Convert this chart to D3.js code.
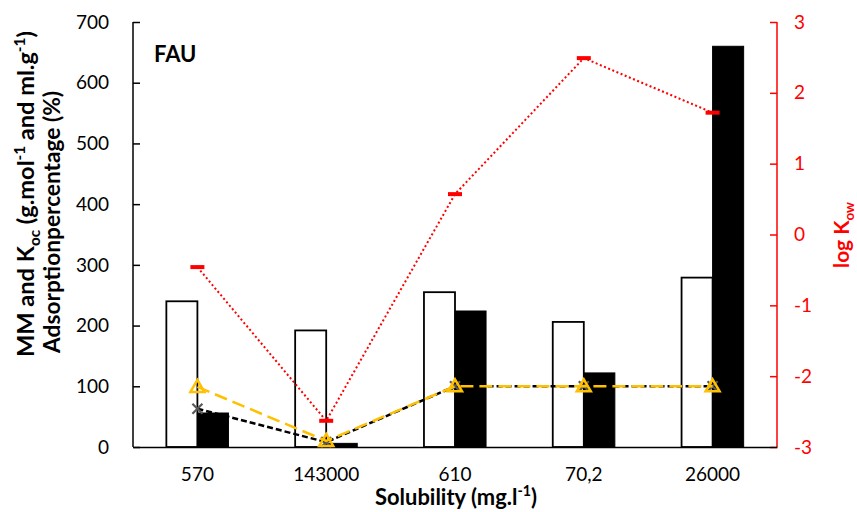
<!DOCTYPE html>
<html><head><meta charset="utf-8">
<script src="https://cdn.jsdelivr.net/npm/d3@7"></script>
<style>body{margin:0;background:#fff}svg{display:block}text{font-family:Lato,"Open Sans",sans-serif}</style>
</head><body><svg id="c" width="857" height="512"></svg>
<script>
const categories = ["570","143000","610","70,2","26000"];
const molarMass = [240, 192, 255, 206, 279];
const koc = [56, 6, 224, 122, 660];
const adsorptionA = [99, 10, 100, 100, 100];
const adsorptionB = [63, 8, 100, 100, 100];
const logKow = [-0.46, -2.63, 0.57, 2.49, 1.72];
const leftTicks = [0,100,200,300,400,500,600,700];
const rightTicks = [-3,-2,-1,0,1,2,3];

const svg = d3.select("#c");
const L=133, R=777, T=22, B=447;
const x = d3.scaleBand().domain(categories).range([L,R]).padding(0);
const yL = d3.scaleLinear().domain([0,700]).range([B,T]);
const yR = d3.scaleLinear().domain([-3,3]).range([B,T]);
const groupW = x.bandwidth()*0.482;
const xi = d3.scaleBand().domain(["mm","koc"]).range([0,groupW]).padding(0);
const cx = c => x(c)+x.bandwidth()/2;

// bars
const g = svg.append("g");
categories.forEach((c,i)=>{
  const x0 = cx(c)-groupW/2;
  g.append("rect").attr("x",x0+xi("mm")).attr("y",yL(molarMass[i])).attr("width",xi.bandwidth()).attr("height",B-yL(molarMass[i]))
    .attr("fill","#fff").attr("stroke","#000").attr("stroke-width",1.8);
  g.append("rect").attr("x",x0+xi("koc")).attr("y",yL(koc[i])).attr("width",xi.bandwidth()).attr("height",B-yL(koc[i]))
    .attr("fill","#000").attr("stroke","#000").attr("stroke-width",1);
});

// axes
const axL = svg.append("g").attr("transform",`translate(${L},0)`).call(d3.axisRight(yL).tickValues(leftTicks).tickSize(7).tickFormat(""));
axL.select(".domain").attr("stroke","#000").attr("stroke-width",1.5).attr("d",`M0,${T}V${B}`);
axL.selectAll(".tick line").attr("stroke","#000").attr("stroke-width",1.5);
svg.append("g").selectAll("text").data(leftTicks).join("text")
  .attr("x",109).attr("y",d=>yL(d)).attr("dy","0.35em").attr("text-anchor","end").attr("font-size",19).attr("fill","#000").text(d=>d);

const axR = svg.append("g").attr("transform",`translate(${R},0)`).call(d3.axisLeft(yR).tickValues(rightTicks).tickSize(7).tickFormat(""));
axR.select(".domain").attr("stroke","#ff0000").attr("stroke-width",1.5).attr("d",`M0,${T}V${B}`);
axR.selectAll(".tick line").attr("stroke","#ff0000").attr("stroke-width",1.5);
svg.append("g").selectAll("text").data(rightTicks).join("text")
  .attr("x",794).attr("y",d=>yR(d)).attr("dy","0.35em").attr("text-anchor","start").attr("font-size",19).attr("fill","#ff0000").text(d=>d<0?"-"+Math.abs(d):d);

const axB = svg.append("g").attr("transform",`translate(0,${B})`).call(d3.axisBottom(x).tickSize(0).tickFormat(""));
axB.select(".domain").attr("stroke","#000").attr("stroke-width",1.5);
svg.append("g").selectAll("text").data(categories).join("text")
  .attr("x",d=>cx(d)).attr("y",481).attr("text-anchor","middle").attr("font-size",19).attr("fill","#000").text(d=>d);

// lines
const pts = (arr,sc) => categories.map((c,i)=>[cx(c), sc(arr[i])]);
const line = d3.line();
svg.append("path").attr("d",line(pts(adsorptionB,yL))).attr("fill","none").attr("stroke","#000").attr("stroke-width",2.5).attr("stroke-dasharray","6,3");
pts(adsorptionB,yL).forEach(p=>{
  svg.append("path").attr("d",`M${p[0]-5},${p[1]-5}L${p[0]+5},${p[1]+5}M${p[0]-5},${p[1]+5}L${p[0]+5},${p[1]-5}`).attr("stroke","#595959").attr("stroke-width",2.2);
});
svg.append("path").attr("d",line(pts(adsorptionA,yL))).attr("fill","none").attr("stroke","#FFC000").attr("stroke-width",2.5).attr("stroke-dasharray","13,6");
pts(adsorptionA,yL).forEach(p=>{
  svg.append("path").attr("d",`M${p[0]},${p[1]-7}L${p[0]+7},${p[1]+5}L${p[0]-7},${p[1]+5}Z`).attr("fill","none").attr("stroke","#FFC000").attr("stroke-width",2.5);
});
svg.append("path").attr("d",line(pts(logKow,yR))).attr("fill","none").attr("stroke","#ff0000").attr("stroke-width",2).attr("stroke-dasharray","2,2.5");
pts(logKow,yR).forEach(p=>{
  svg.append("rect").attr("x",p[0]-7).attr("y",p[1]-2).attr("width",14).attr("height",4).attr("fill","#ff0000");
});

// rich text helper: parts = [[text, kind]] kind: n, sup, sub
function rich(sel, parts, f){
  sel.selectAll("tspan").remove();
  sel.attr("font-size",f);
  let cur=0;
  parts.forEach(([t,k])=>{
    const target = k==="sup"? -0.4*f : k==="sub"? 0.25*f : 0;
    sel.append("tspan").attr("font-size", k==="n"? f : 0.65*f).attr("dy", target-cur).text(t);
    cur=target;
  });
}
function fit(sel, parts, targetLen){
  rich(sel, parts, 20);
  const len = sel.node().getComputedTextLength();
  rich(sel, parts, 20*targetLen/len);
}

svg.append("text").attr("x",154).attr("y",62).attr("font-size",22).attr("font-weight","bold").attr("fill","#000").text("FAU");

const xt = svg.append("text").attr("x",456).attr("y",505).attr("text-anchor","middle").attr("font-weight","bold").attr("fill","#000");
fit(xt, [["Solubility (mg.l","n"],["-1","sup"],[")","n"]], 162);

const yt1 = svg.append("text").attr("transform","translate(34,194) rotate(-90)").attr("text-anchor","middle").attr("font-weight","bold").attr("fill","#000");
fit(yt1, [["MM and K","n"],["oc","sub"],[" (g.mol","n"],["-1","sup"],[" and ml.g","n"],["-1","sup"],[")","n"]], 326);
const yt2 = svg.append("text").attr("transform","translate(60,222) rotate(-90)").attr("text-anchor","middle").attr("font-weight","bold").attr("fill","#000");
fit(yt2, [["Adsorptionpercentage (%)","n"]], 262);

const rt = svg.append("text").attr("transform","translate(849,235) rotate(-90)").attr("text-anchor","middle").attr("font-weight","bold").attr("fill","#ff0000");
fit(rt, [["log K","n"],["ow","sub"]], 66);
</script></body></html>
